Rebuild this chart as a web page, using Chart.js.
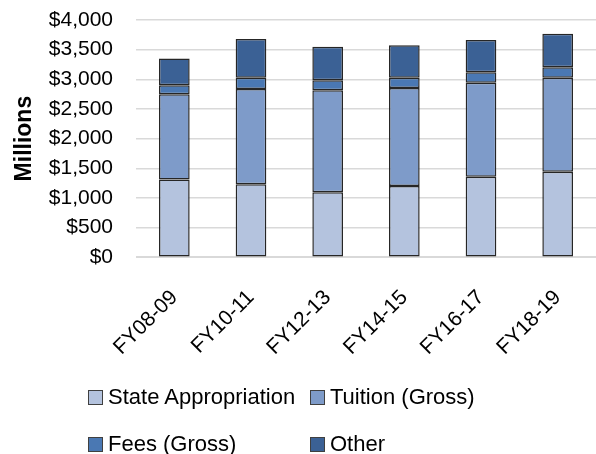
<!DOCTYPE html>
<html>
<head>
<meta charset="utf-8">
<script src="https://cdn.jsdelivr.net/npm/chart.js@4/dist/chart.umd.min.js"></script>
<style>
  body { margin: 0; background: #fff; }
  #wrap { position: relative; width: 596px; height: 454px; }
  #legend { position: absolute; left: 88px; top: 384px; width: 480px;
    font-family: "Liberation Sans", Arial, sans-serif; font-size: 22px; color: #000; }
  .item { position: absolute; display: flex; align-items: center; white-space: nowrap; }
  .box { width: 13px; height: 13px; border: 1px solid #404040; margin-right: 5px; }
</style>
</head>
<body>
<div id="wrap">
  <canvas id="chart" width="596" height="454"></canvas>
  <div id="legend"></div>
</div>
<script>
const anos = ['FY08-09', 'FY10-11', 'FY12-13', 'FY14-15', 'FY16-17', 'FY18-19']
const estado = [1310, 1232, 1096, 1203, 1356, 1441]
const mensalidade = [1436, 1604, 1718, 1650, 1587, 1587]
const taxas = [152, 192, 169, 175, 176, 175]
const outros = [453, 650, 565, 548, 542, 565]

const nomes = ['State Appropriation', 'Tuition (Gross)', 'Fees (Gross)', 'Other']
const cores = ['#b4c3de', '#7e9bc9', '#4a78b3', '#3b6195']

const fonte = '"Liberation Sans", Arial, sans-serif'

function serie(i, valores){
    return {
        label: nomes[i],
        data: valores,
        backgroundColor: cores[i],
        borderColor: '#262626',
        borderWidth: 1.5,
        borderSkipped: false,
        barPercentage: 0.4,
        categoryPercentage: 1
    }
}

const ctx = document.getElementById('chart').getContext('2d')
const grafico = new Chart(ctx, {
    type: 'bar',
    data: {
        labels: anos,
        datasets: [serie(0, estado), serie(1, mensalidade), serie(2, taxas), serie(3, outros)]
    },
    options: {
        responsive: false,
        animation: false,
        layout: { padding: { top: 0, left: 10, right: 0, bottom: 74 } },
        plugins: {
            legend: { display: false },
            tooltip: { enabled: false }
        },
        scales: {
            x: {
                stacked: true,
                grid: { display: false },
                border: { color: '#d9d9d9' },
                ticks: {
                    color: '#000', font: { family: fonte, size: 21 },
                    minRotation: 45, maxRotation: 45, padding: 20
                }
            },
            y: {
                stacked: true,
                min: 0, max: 4000,
                // largura fixa do eixo para a area do grafico comecar em x=136
                afterFit: s => { s.width = 126 },
                grid: { color: '#d9d9d9', lineWidth: 1.5, drawTicks: true, tickLength: 15.6, tickColor: 'transparent' },
                border: { display: false },
                ticks: {
                    stepSize: 500, padding: 7.4, color: '#000', autoSkip: false,
                    font: { family: fonte, size: 21 },
                    callback: v => '$' + v.toLocaleString('en-US')
                },
                title: {
                    display: true, text: 'Millions', color: '#000',
                    font: { family: fonte, size: 23, weight: 'bold' }, padding: 1
                }
            }
        }
    }
})

// legenda em duas colunas, como no original
const legenda = document.getElementById('legend')
const posicoes = [[0, 0], [222, 0], [0, 47], [222, 47]]
nomes.forEach((nome, i) => {
    const item = document.createElement('div')
    item.className = 'item'
    item.style.left = posicoes[i][0] + 'px'
    item.style.top = posicoes[i][1] + 'px'
    item.innerHTML = `<span class="box" style="background:${cores[i]}"></span><span>${nome}</span>`
    legenda.appendChild(item)
})
</script>
</body>
</html>
